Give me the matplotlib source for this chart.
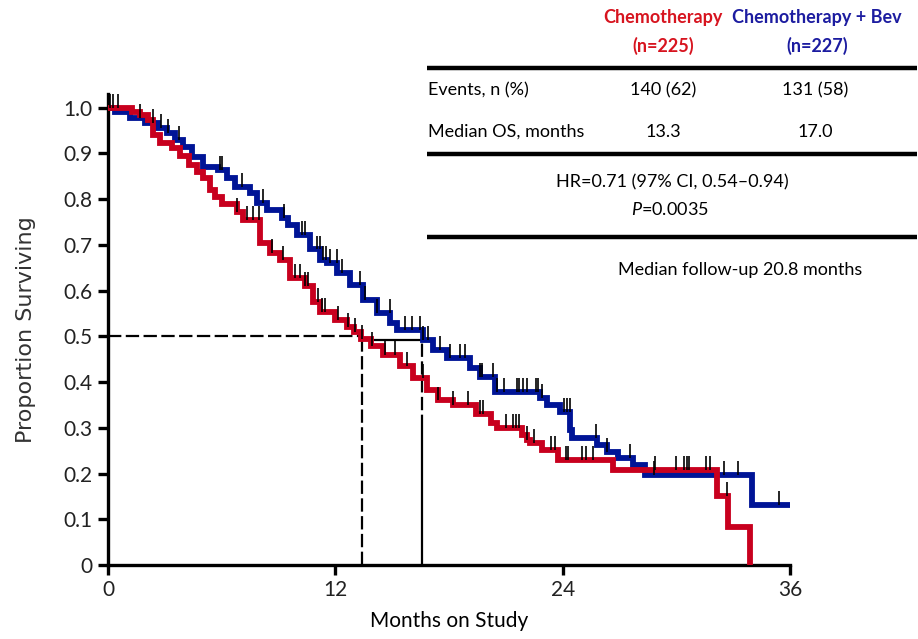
import numpy as np
import matplotlib
matplotlib.use('Agg')
import matplotlib.pyplot as plt
from matplotlib.lines import Line2D

# fonts: Lato stands in for the Calibri-like text
plt.rcParams['font.family'] = ['Lato', 'DejaVu Sans']
plt.rcParams['mathtext.fontset'] = 'custom'
plt.rcParams['mathtext.it'] = 'Lato:italic'
plt.rcParams['mathtext.rm'] = 'Lato'

RED = '#c8001e'
BLUE = '#001496'

# Kaplan-Meier step knots (months, proportion surviving)
chemo_t = [0, 1.27, 1.7, 2.1, 2.4, 2.75, 3.4, 3.8, 4.3, 4.7, 5.0, 5.4, 5.65, 6.0,
           6.8, 7.1, 8.0, 8.55, 9.1, 9.6, 10.4, 10.8, 11.2, 12.0, 12.6, 13.0, 13.35,
           13.9, 14.5, 15.4, 16.1, 16.85, 17.4, 18.2, 19.4, 20.2, 20.55, 21.85, 22.1,
           22.3, 22.9, 23.75, 26.65, 32.15, 32.75, 33.9]
chemo_s = [1.0, 0.99, 0.985, 0.974, 0.94, 0.923, 0.912, 0.895, 0.875, 0.86, 0.847,
           0.82, 0.805, 0.79, 0.772, 0.755, 0.705, 0.683, 0.667, 0.628, 0.61, 0.575,
           0.553, 0.536, 0.52, 0.51, 0.495, 0.48, 0.46, 0.435, 0.41, 0.383, 0.36, 0.35,
           0.33, 0.31, 0.30, 0.285, 0.273, 0.267, 0.252, 0.23, 0.208, 0.151, 0.083, 0.0]

bev_t = [0, 0.37, 1.16, 1.95, 2.64, 3.1, 3.54, 3.96, 4.43, 5.0, 5.8, 6.3, 6.7, 7.5,
         7.87, 8.4, 9.2, 9.5, 10.0, 10.67, 11.2, 11.56, 12.1, 12.8, 13.46, 14.2, 14.9,
         15.26, 16.63, 17.16, 17.9, 19.1, 19.64, 20.43, 22.8, 23.18, 23.86, 24.4, 24.5,
         25.8, 26.35, 26.9, 27.7, 28.35, 34.0, 35.9]
bev_s = [1.0, 0.99, 0.978, 0.967, 0.956, 0.945, 0.93, 0.915, 0.893, 0.871, 0.864,
         0.847, 0.827, 0.814, 0.792, 0.777, 0.759, 0.744, 0.722, 0.69, 0.667, 0.66,
         0.639, 0.613, 0.58, 0.551, 0.53, 0.514, 0.492, 0.47, 0.453, 0.431, 0.411,
         0.379, 0.365, 0.35, 0.335, 0.295, 0.278, 0.263, 0.247, 0.234, 0.219, 0.197,
         0.131, 0.131]

# censored observations (months)
chemo_cens = [0.26, 0.53, 6.81, 7.34, 7.66, 7.97, 8.66, 9.24, 9.87, 10.14, 10.40, 10.56,
              11.09, 11.30, 11.46, 12.14, 12.67, 13.04, 13.41, 13.94, 14.63, 15.16,
              15.79, 16.63, 17.42, 18.22, 19.01, 19.64, 19.80, 21.01, 21.38, 21.54,
              21.70, 22.12, 22.49, 23.39, 23.60, 24.18, 24.29, 25.03, 25.24, 25.61,
              28.88, 29.99, 30.41, 30.57, 30.68, 31.57, 31.78, 32.68]
bev_cens = [0.11, 1.69, 2.38, 2.80, 3.17, 3.75, 5.91, 6.02, 7.07, 8.18, 9.29, 10.24,
            10.40, 11.03, 11.19, 11.35, 11.51, 11.72, 12.09, 12.35, 13.31, 13.57, 14.20,
            14.89, 15.68, 16.05, 16.47, 16.63, 16.90, 17.53, 18.06, 18.59, 18.85, 19.64,
            19.75, 20.33, 20.54, 20.91, 21.59, 21.70, 21.91, 22.12, 22.60, 22.70, 22.91,
            24.08, 24.23, 24.39, 25.77, 26.35, 27.56, 28.83, 32.52, 33.26, 35.43]

median_chemo = 13.4
median_bev = 16.6

y_ticks = [0, 0.1, 0.2, 0.3, 0.4, 0.5, 0.6, 0.7, 0.8, 0.9, 1.0]
y_labels = ['0', '0.1', '0.2', '0.3', '0.4', '0.5', '0.6', '0.7', '0.8', '0.9', '1.0']
x_ticks = [0, 12, 24, 36]

W, H = 918, 639
fig = plt.figure(figsize=(W / 100, H / 100), dpi=100)
ax = fig.add_axes([108 / W, 1 - 565 / H, (790 - 108) / W, (565 - 94) / H])


def surv_at(times, surv, t):
    idx = np.searchsorted(times, t, side='right') - 1
    return np.array(surv)[idx]


#median reference lines
ax.hlines(0.5, 0, median_chemo, color='black', lw=1.6, linestyles=(0, (6, 2)), zorder=1)
ax.hlines(0.493, median_chemo, median_bev, color='black', lw=1.6, zorder=1)
ax.vlines(median_chemo, 0, 0.5, color='black', lw=1.6, linestyles=(0, (6, 2)), zorder=1)
ax.vlines(median_bev, 0.3, 0.493, color='black', lw=1.6, linestyles=(0, (6, 2)), zorder=1)
ax.vlines(median_bev, 0, 0.3, color='black', lw=1.6, zorder=1)

#curves
ax.step(bev_t, bev_s, where='post', color=BLUE, lw=4.2, zorder=2, solid_joinstyle='miter')
ax.step(chemo_t, chemo_s, where='post', color=RED, lw=4.2, zorder=3, solid_joinstyle='miter')

#censor marks
cb = surv_at(bev_t, bev_s, bev_cens)
ax.vlines(bev_cens, cb, cb + 0.03, color='black', lw=1.2, zorder=4, clip_on=False)
cc = surv_at(chemo_t, chemo_s, chemo_cens)
ax.vlines(chemo_cens, cc, cc + 0.03, color='black', lw=1.2, zorder=4, clip_on=False)

ax.set_xlim(0, 36)
ax.set_ylim(0, 1.03)
ax.set_xticks(x_ticks)
ax.set_yticks(y_ticks)
ax.set_yticklabels(y_labels)
for s in ['top', 'right']:
    ax.spines[s].set_visible(False)
for s in ['left', 'bottom']:
    ax.spines[s].set_linewidth(2.4)
ax.tick_params(direction='out', length=7, width=2.4, labelsize=15, pad=4, labelcolor='#222222')
ax.set_xlabel('Months on Study', fontsize=15, labelpad=8)
ax.set_ylabel('Proportion Surviving', fontsize=16, family='DejaVu Sans', labelpad=20,
              color='#333333')

#table in the upper right
def fx(px):
    return px / W


def fy(py):
    return 1 - py / H


fs = 13
hs = 13
fig.text(fx(663), fy(18), 'Chemotherapy', color='#d7141f', fontsize=hs, fontweight='bold', ha='center', va='center')
fig.text(fx(663), fy(46), '(n=225)', color='#d7141f', fontsize=hs, fontweight='bold', ha='center', va='center')
fig.text(fx(817), fy(18), 'Chemotherapy + Bev', color='#1c1ca0', fontsize=hs, fontweight='bold', ha='center', va='center')
fig.text(fx(817), fy(46), '(n=227)', color='#1c1ca0', fontsize=hs, fontweight='bold', ha='center', va='center')

fig.text(fx(428), fy(90), 'Events, n (%)', fontsize=fs, ha='left', va='center')
fig.text(fx(663), fy(90), '140 (62)', fontsize=fs, ha='center', va='center')
fig.text(fx(815), fy(90), '131 (58)', fontsize=fs, ha='center', va='center')
fig.text(fx(428), fy(132), 'Median OS, months', fontsize=fs, ha='left', va='center')
fig.text(fx(663), fy(132), '13.3', fontsize=fs, ha='center', va='center')
fig.text(fx(815), fy(132), '17.0', fontsize=fs, ha='center', va='center')
fig.text(fx(672), fy(182), 'HR=0.71 (97% CI, 0.54\u20130.94)', fontsize=fs, ha='center', va='center')
fig.text(fx(670), fy(209), r'$\mathit{P}$=0.0035', fontsize=fs, ha='center', va='center')
fig.text(fx(740), fy(270), 'Median follow-up 20.8 months', fontsize=fs, ha='center', va='center')

for py in [68, 154, 237]:
    fig.add_artist(Line2D([fx(427), fx(917)], [fy(py), fy(py)], color='black', lw=3.2,
                          solid_capstyle='butt', transform=fig.transFigure))

fig.savefig('out.png', dpi=100)
